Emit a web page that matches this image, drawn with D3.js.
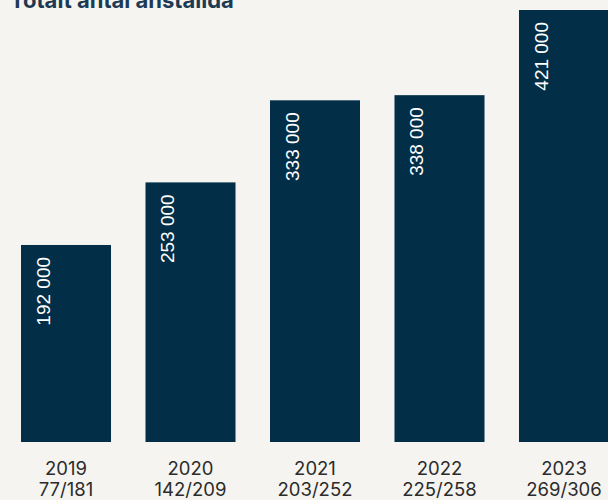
<!DOCTYPE html>
<html>
<head>
<meta charset="utf-8">
<script src="https://cdn.jsdelivr.net/npm/d3@7"></script>
<style>
  html, body { margin: 0; padding: 0; background: #f5f4f0; overflow: hidden; }
  svg { display: block; }
</style>
</head>
<body>
<svg id="chart" width="608" height="500"></svg>
<script>
// Employees per year, with the subtitle line shown under each year
const years = ["2019", "2020", "2021", "2022", "2023"];
const subLabels = ["77/181", "142/209", "203/252", "225/258", "269/306"];
const employees = [192000, 253000, 333000, 338000, 421000];
const valueLabels = ["192 000", "253 000", "333 000", "338 000", "421 000"];

const W = 608, H = 500;
const baseline = 442;
const svg = d3.select("#chart");

svg.append("rect").attr("width", W).attr("height", H).attr("fill", "#f5f4f0");

const x = d3.scaleBand()
  .domain(years)
  .range([21, 609])
  .paddingInner(0.277)
  .paddingOuter(0);

const y = d3.scaleLinear()
  .domain([0, 421000])
  .range([baseline, 10]);

const data = years.map((yr, i) => ({ yr, v: employees[i], label: valueLabels[i], sub: subLabels[i] }));

// Title (partly outside the top edge)
svg.append("text")
  .attr("x", 10)
  .attr("y", 8)
  .attr("font-family", "Inter, 'Noto Sans', sans-serif")
  .attr("font-weight", 700)
  .attr("font-size", 22)
  .attr("fill", "#1d3a55")
  .text("Totalt antal anställda");

// Bars
svg.selectAll("rect.bar")
  .data(data)
  .join("rect")
  .attr("class", "bar")
  .attr("x", d => x(d.yr))
  .attr("y", d => y(d.v))
  .attr("width", x.bandwidth())
  .attr("height", d => baseline - y(d.v))
  .attr("fill", "#022e47");

// Vertical value labels inside the bars
svg.selectAll("text.val")
  .data(data)
  .join("text")
  .attr("class", "val")
  .attr("transform", d => `translate(${x(d.yr) + 29},${y(d.v) + 12}) rotate(-90)`)
  .attr("text-anchor", "end")
  .attr("font-family", "'Liberation Sans', Arial, sans-serif")
  .attr("font-size", 19)
  .attr("fill", "#ffffff")
  .text(d => d.label);

// Category labels (year + sub line)
const xAxis = svg.append("g");
const lbl = xAxis.selectAll("text.cat")
  .data(data)
  .join("text")
  .attr("class", "cat")
  .attr("text-anchor", "middle")
  .attr("font-family", "Inter, 'Noto Sans', sans-serif")
  .attr("font-size", 18.5)
  .attr("fill", "#2b2b2b");
lbl.append("tspan")
  .attr("x", d => x(d.yr) + x.bandwidth() / 2)
  .attr("y", 475)
  .text(d => d.yr);
lbl.append("tspan")
  .attr("x", d => x(d.yr) + x.bandwidth() / 2)
  .attr("y", 495.5)
  .text(d => d.sub);
</script>
</body>
</html>
